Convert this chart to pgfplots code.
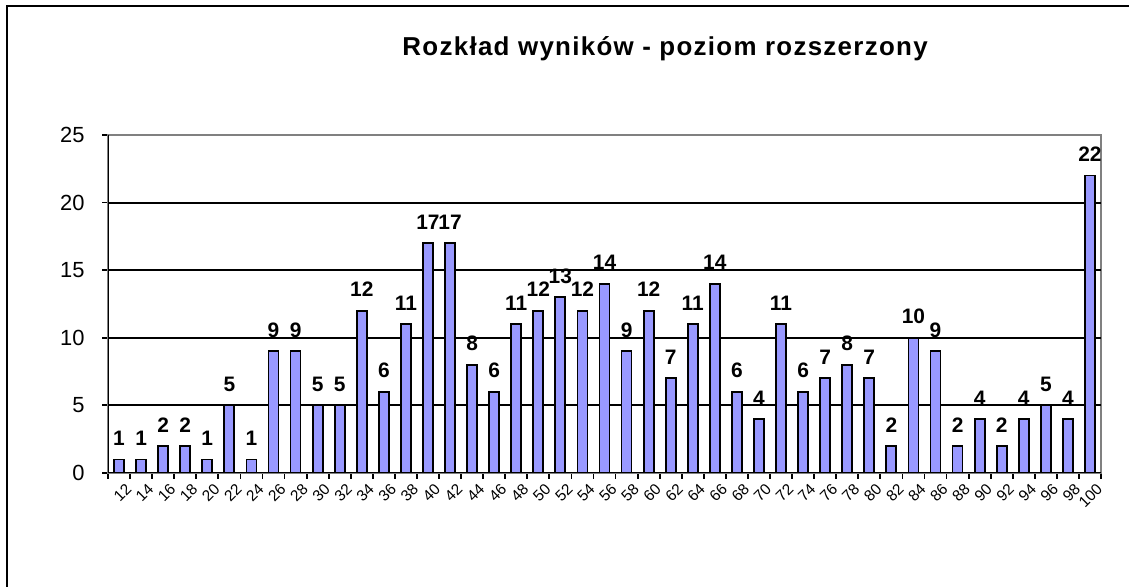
\documentclass[border=0pt]{standalone}
\usepackage{pgfplots}
\pgfplotsset{compat=1.18}
\usepackage{fontspec}
\setmainfont{Liberation Sans}
\definecolor{barblue}{HTML}{9999FF}
\definecolor{bordergrey}{HTML}{808080}
\begin{document}
\begin{tikzpicture}[x=1bp,y=1bp]
\begin{axis}[
  at={(108bp,114bp)}, anchor=south west,
  scale only axis, width=993bp, height=338bp,
  ybar, bar width=10bp,
  xmin=-0.5, xmax=44.5, ymin=0, ymax=25,
  xtick={0,...,44},
  xticklabels={12,14,16,18,20,22,24,26,28,30,32,34,36,38,40,42,44,46,48,50,52,54,56,58,60,62,64,66,68,70,72,74,76,78,80,82,84,86,88,90,92,94,96,98,100},
  minor xtick={-0.5,0.5,...,44.5},
  ytick={0,5,...,25},
  extra y ticks={5,10,15,20}, extra y tick labels={},
  extra y tick style={ymajorgrids=true, major tick length=0pt},
  major grid style={black, line width=2bp},
  x tick style={draw=none},
  minor x tick style={draw=black, line width=1.8bp},
  minor tick length=6bp,
  y tick style={black, line width=1.8bp},
  major tick length=6bp,
  tick align=outside, tick pos=left,
  axis line style={bordergrey, line width=2.2bp},
  /pgf/number format/assume math mode=true,
  yticklabel style={font=\fontsize{22}{26}\selectfont, xshift=-14bp},
  xticklabel style={font=\fontsize{15.5}{18}\selectfont, rotate=45, anchor=east, xshift=5bp, yshift=-12bp},
  nodes near coords,
  every node near coord/.append style={font=\bfseries\fontsize{21}{25}\selectfont, inner sep=0pt, yshift=13bp},
  title={\addfontfeature{LetterSpace=5}Rozkład wyników - poziom rozszerzony},
  title style={at={(0.561,1.237)}, anchor=center, font=\bfseries\fontsize{26}{31}\selectfont},
]
\addplot[fill=barblue, draw=black, line width=1.8bp] coordinates {
(0,1) (1,1) (2,2) (3,2) (4,1) (5,5) (6,1) (7,9) (8,9) (9,5) (10,5) (11,12) (12,6) (13,11) (14,17) (15,17) (16,8) (17,6) (18,11) (19,12) (20,13) (21,12) (22,14) (23,9) (24,12) (25,7) (26,11) (27,14) (28,6) (29,4) (30,11) (31,6) (32,7) (33,8) (34,7) (35,2) (36,10) (37,9) (38,2) (39,4) (40,2) (41,4) (42,5) (43,4) (44,22)
};
\draw[black, line width=2.6bp] (rel axis cs:0,1) -- (rel axis cs:0,0) -- (rel axis cs:1,0);
\end{axis}
\draw[black, line width=2.4bp] (7,-20) -- (7,581) -- (1160,581);
\pgfresetboundingbox
\path[use as bounding box] (0,0) rectangle (1129,587);
\end{tikzpicture}
\end{document}
